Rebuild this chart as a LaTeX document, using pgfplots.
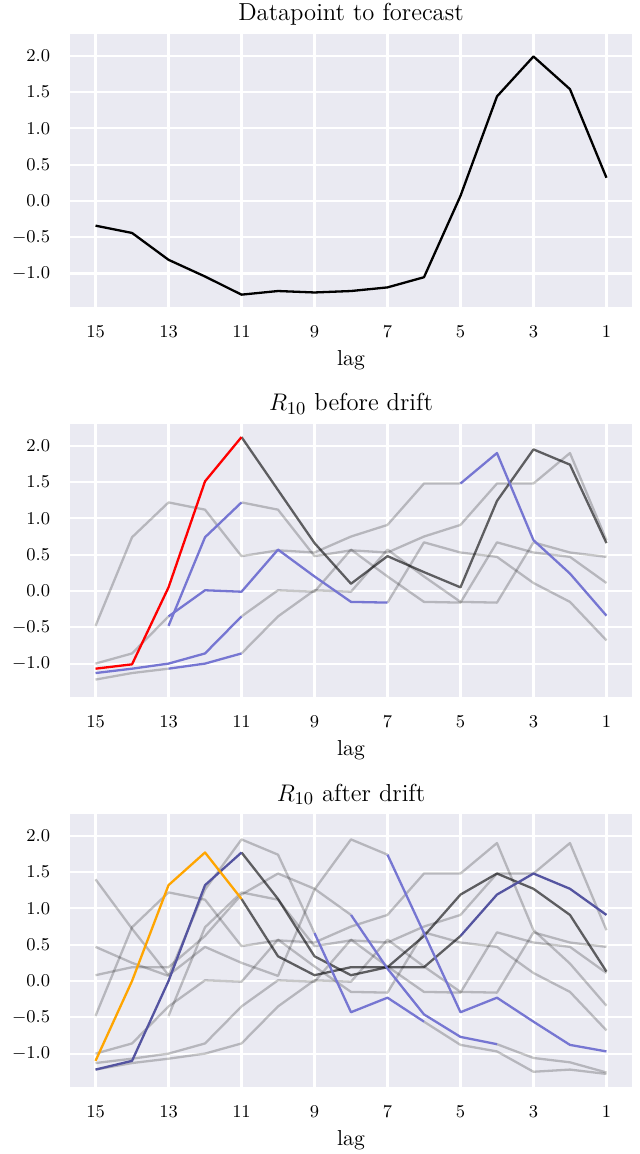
\documentclass[border=0pt]{standalone}
\usepackage{pgfplots}
\pgfplotsset{compat=1.18}
\definecolor{bgc}{RGB}{234,234,242}
\definecolor{lblue}{RGB}{118,118,210}
\definecolor{navyb}{RGB}{84,84,160}
\definecolor{orng}{RGB}{255,165,0}
\pgfplotsset{
  panel/.style={
    scale only axis, width=281pt, height=136.5pt,
    xmin=0.3, xmax=15.7, x dir=reverse, ymin=-1.46, ymax=2.30,
    xtick={1,3,...,15}, ytick={-1,-0.5,0,0.5,1,1.5,2},
    axis background/.style={fill=bgc},
    grid=major, major grid style={white, line width=1.1pt},
    axis line style={draw=none}, major tick length=0pt,
    tick label style={font=\fontsize{9.4}{11}\selectfont},
    y tick label style={/pgf/number format/.cd, fixed, fixed zerofill, precision=1, /tikz/.cd, xshift=-6.4pt},
    x tick label style={yshift=-6.1pt},
    xlabel={lag},
    xlabel style={font=\fontsize{10.8}{13}\selectfont, at={(axis description cs:0.5,0)}, anchor=north, inner sep=0pt, yshift=-21.7pt},
    title style={font=\fontsize{12.3}{14}\selectfont, at={(axis description cs:0.5,1)}, anchor=base, inner sep=0pt, yshift=0.5pt},
  },
  gr/.style={black, draw opacity=0.22, line width=1.15pt, line join=round},
  dk/.style={black, draw opacity=0.6, line width=1.15pt, line join=round},
  bl/.style={lblue, line width=1.15pt, line join=round},
  nv/.style={navyb, line width=1.15pt, line join=round},
}
\begin{document}
\begin{tikzpicture}
% ---------- Panel 1 ----------
\begin{axis}[panel, at={(0pt,0pt)}, anchor=south west, title={Datapoint to forecast}]
\addplot[black, line width=1.15pt, line join=round] coordinates {
(15,-0.34) (14,-0.44) (13,-0.81) (12,-1.04) (11,-1.29) (10,-1.24) (9,-1.26) (8,-1.24)
(7,-1.19) (6,-1.05) (5,0.07) (4,1.44) (3,1.99) (2,1.54) (1,0.32)};
\end{axis}
% ---------- Panel 2 ----------
\begin{axis}[panel, at={(0pt,-195pt)}, anchor=south west, title={$R_{10}$ before drift}]
% grays
\addplot[gr] coordinates {(15,-0.48) (14,0.74) (13,1.22) (12,1.12) (11,0.48) (10,0.56) (9,0.53) (8,0.75) (7,0.91) (6,1.48) (5,1.48)};
\addplot[gr] coordinates {(11,1.22) (10,1.12) (9,0.48) (8,0.56) (7,0.53) (6,0.75) (5,0.91) (4,1.48) (3,1.48) (2,1.90) (1,0.70)};
\addplot[gr] coordinates {(15,-1.0) (14,-0.86) (13,-0.35)};
\addplot[gr] coordinates {(7,-0.16) (6,0.67) (5,0.53) (4,0.47) (3,0.11) (2,-0.15) (1,-0.68)};
\addplot[gr] coordinates {(11,-0.35) (10,0.01) (9,-0.01) (8,0.57) (7,0.20) (6,-0.15) (5,-0.16) (4,0.67) (3,0.53) (2,0.47) (1,0.11)};
\addplot[gr] coordinates {(15,-1.22) (14,-1.13) (13,-1.07)};
\addplot[gr] coordinates {(11,-0.86) (10,-0.35) (9,0.01) (8,-0.01) (7,0.57) (6,0.20) (5,-0.15) (4,-0.16) (3,0.67) (2,0.53) (1,0.47)};
% dark
\addplot[dk] coordinates {(11,2.12) (10,1.39) (9,0.66) (8,0.10) (7,0.48) (6,0.26) (5,0.05) (4,1.24) (3,1.95) (2,1.74) (1,0.66)};
% blues
\addplot[bl] coordinates {(5,1.48) (4,1.90) (3,0.70) (2,0.24) (1,-0.34)};
\addplot[bl] coordinates {(13,-0.48) (12,0.74) (11,1.22)};
\addplot[bl] coordinates {(13,-0.35) (12,0.01) (11,-0.01) (10,0.57) (9,0.20) (8,-0.15) (7,-0.16)};
\addplot[bl] coordinates {(15,-1.13) (14,-1.07) (13,-1.0) (12,-0.86) (11,-0.35)};
\addplot[bl] coordinates {(13,-1.07) (12,-1.0) (11,-0.86)};
% red
\addplot[red, line width=1.15pt, line join=round] coordinates {(15,-1.07) (14,-1.01) (13,0.05) (12,1.51) (11,2.12)};
\end{axis}
% ---------- Panel 3 ----------
\begin{axis}[panel, at={(0pt,-390pt)}, anchor=south west, title={$R_{10}$ after drift}]
% grays
\addplot[gr] coordinates {(15,-0.48) (14,0.74) (13,1.22) (12,1.12) (11,0.48) (10,0.56) (9,0.53) (8,0.75) (7,0.91) (6,1.48) (5,1.48) (4,1.90) (3,0.70) (2,0.24) (1,-0.34)};
\addplot[gr] coordinates {(13,-0.48) (12,0.74) (11,1.22) (10,1.12) (9,0.48) (8,0.56) (7,0.53) (6,0.75) (5,0.91) (4,1.48) (3,1.48) (2,1.90) (1,0.70)};
\addplot[gr] coordinates {(15,-1.0) (14,-0.86) (13,-0.35) (12,0.01) (11,-0.01) (10,0.57) (9,0.20) (8,-0.15) (7,-0.16) (6,0.67) (5,0.53) (4,0.47) (3,0.11) (2,-0.15) (1,-0.68)};
\addplot[gr] coordinates {(15,-1.13) (14,-1.07) (13,-1.0) (12,-0.86) (11,-0.35) (10,0.01) (9,-0.01) (8,0.57) (7,0.20) (6,-0.15) (5,-0.16) (4,0.67) (3,0.53) (2,0.47) (1,0.11)};
\addplot[gr] coordinates {(15,-1.22) (14,-1.13) (13,-1.07) (12,-1.0) (11,-0.86) (10,-0.35) (9,0.01) (8,-0.01) (7,0.57) (6,0.20) (5,-0.15) (4,-0.16) (3,0.67) (2,0.53) (1,0.47)};
\addplot[gr] coordinates {(15,1.40) (14,0.72) (13,0.08) (12,0.47) (11,0.25) (10,0.07) (9,1.26) (8,1.95) (7,1.74)};
\addplot[gr] coordinates {(15,0.47) (14,0.25) (13,0.07) (12,1.26) (11,1.95) (10,1.74) (9,0.66)};
\addplot[gr] coordinates {(6,-0.56) (5,-0.88) (4,-0.97) (3,-1.25) (2,-1.22) (1,-1.28)};
\addplot[gr] coordinates {(15,0.08) (14,0.19) (13,0.19) (12,0.62) (11,1.19) (10,1.48) (9,1.27) (8,0.91)};
\addplot[gr] coordinates {(4,-0.87) (3,-1.06) (2,-1.12) (1,-1.26)};
% dark
\addplot[dk] coordinates {(11,1.13) (10,0.34) (9,0.08) (8,0.19) (7,0.19) (6,0.62) (5,1.19) (4,1.48) (3,1.27) (2,0.91) (1,0.13)};
\addplot[dk] coordinates {(11,1.77) (10,1.13) (9,0.34) (8,0.08) (7,0.19) (6,0.19) (5,0.62)};
% blues
\addplot[bl] coordinates {(7,1.74) (6,0.66) (5,-0.43) (4,-0.23) (3,-0.56) (2,-0.88) (1,-0.97)};
\addplot[bl] coordinates {(9,0.66) (8,-0.43) (7,-0.23) (6,-0.56)};
\addplot[bl] coordinates {(8,0.91) (7,0.17) (6,-0.46) (5,-0.77) (4,-0.87)};
\addplot[nv] coordinates {(15,-1.22) (14,-1.10) (13,0.0) (12,1.32) (11,1.77)};
\addplot[nv] coordinates {(5,0.62) (4,1.19) (3,1.48) (2,1.27) (1,0.91)};
% orange
\addplot[orng, line width=1.15pt, line join=round] coordinates {(15,-1.10) (14,0.0) (13,1.32) (12,1.77) (11,1.13)};
\end{axis}
\pgfresetboundingbox
\path (-35pt,153.5pt) rectangle (285pt,-423.5pt);
\end{tikzpicture}
\end{document}
